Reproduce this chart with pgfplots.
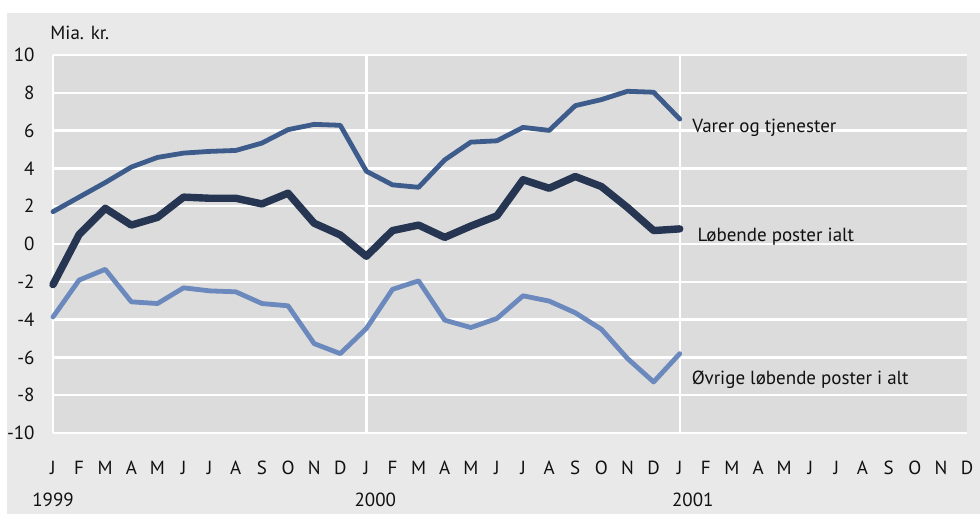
\documentclass[border=0pt]{standalone}
\usepackage{fontspec}
\setmainfont{PT Sans}
\usepackage{pgfplots}
\pgfplotsset{compat=1.18}
\definecolor{outerbg}{HTML}{E9E9E9}
\definecolor{plotbg}{HTML}{DCDCDC}
\definecolor{varer}{HTML}{3D5C8C}
\definecolor{lob}{HTML}{263552}
\definecolor{ovr}{HTML}{6B89BD}
\definecolor{txt}{HTML}{111111}
\begin{document}
\begin{tikzpicture}[font=\fontsize{9.5}{11}\selectfont]
\path[use as bounding box] (0,0) rectangle (490pt,257pt);
\fill[outerbg] (3.5pt,0) rectangle (490pt,250.5pt);
\node[anchor=west, text=txt, inner sep=0pt] at (25pt,240.5pt) {Mia. kr.};
\begin{axis}[
  at={(26.5pt,40.5pt)}, anchor=south west,
  width=457pt, height=189pt, scale only axis,
  xmin=0, xmax=35, ymin=-10, ymax=10,
  axis background/.style={fill=plotbg},
  axis line style={draw=none},
  major tick length=0pt,
  ytick={-10,-8,-6,-4,-2,0,2,4,6,8,10},
  yticklabels={-10,-8,-6,-4,-2,0,2,4,6,8,10},
  yticklabel style={anchor=east, inner sep=0pt, xshift=-9pt, text=txt, font=\fontsize{9.5}{11}\selectfont},
  ymajorgrids,
  grid style={white, line width=1.2pt},
  xtick={0,...,35},
  xticklabels={J,F,M,A,M,J,J,A,S,O,N,D,J,F,M,A,M,J,J,A,S,O,N,D,J,F,M,A,M,J,J,A,S,O,N,D},
  xticklabel style={anchor=base, inner sep=0pt, yshift=-20.5pt, text=txt, font=\fontsize{9.5}{11}\selectfont},
  extra x ticks={0,12,24},
  extra x tick labels={},
  extra x tick style={xmajorgrids=true},
  clip=false,
  every axis plot/.append style={line join=round, line cap=round},
]
% Varer og tjenester
\addplot[varer, line width=2.4pt] coordinates {
(0,1.71) (1,2.48) (2,3.25) (3,4.07) (4,4.58) (5,4.81) (6,4.9) (7,4.95) (8,5.34) (9,6.05) (10,6.33) (11,6.28)
(12,3.85) (13,3.13) (14,3.0) (15,4.45) (16,5.39) (17,5.46) (18,6.17) (19,6.01) (20,7.32) (21,7.64) (22,8.08) (23,8.03)
(24,6.61)};
% Lobende poster ialt
\addplot[lob, line width=3.7pt] coordinates {
(0,-2.15) (1,0.5) (2,1.89) (3,1.0) (4,1.41) (5,2.48) (6,2.42) (7,2.42) (8,2.12) (9,2.69) (10,1.1) (11,0.48)
(12,-0.65) (13,0.71) (14,1.0) (15,0.35) (16,0.95) (17,1.49) (18,3.4) (19,2.95) (20,3.57) (21,3.04) (22,1.93) (23,0.71)
(24,0.8)};
% Ovrige lobende poster i alt
\addplot[ovr, line width=2.4pt] coordinates {
(0,-3.86) (1,-1.91) (2,-1.34) (3,-3.06) (4,-3.15) (5,-2.32) (6,-2.48) (7,-2.53) (8,-3.15) (9,-3.27) (10,-5.27) (11,-5.8)
(12,-4.47) (13,-2.4) (14,-1.95) (15,-4.03) (16,-4.42) (17,-3.94) (18,-2.74) (19,-3.02) (20,-3.64) (21,-4.51) (22,-6.06) (23,-7.3)
(24,-5.8)};
\node[anchor=west, inner sep=0pt, text=txt] at (axis cs:24.47,6.14) {Varer og tjenester};
\node[anchor=west, inner sep=0pt, text=txt] at (axis cs:24.67,0.37) {Løbende poster ialt};
\node[anchor=west, inner sep=0pt, text=txt] at (axis cs:24.45,-7.16) {Øvrige løbende poster i alt};
\node[anchor=base, inner sep=0pt, text=txt, yshift=-36.8pt] at (axis cs:0,-10) {1999};
\node[anchor=base, inner sep=0pt, text=txt, yshift=-36.8pt] at (axis cs:12.34,-10) {2000};
\node[anchor=base, inner sep=0pt, text=txt, yshift=-36.8pt] at (axis cs:24.5,-10) {2001};
\end{axis}
\end{tikzpicture}
\end{document}
